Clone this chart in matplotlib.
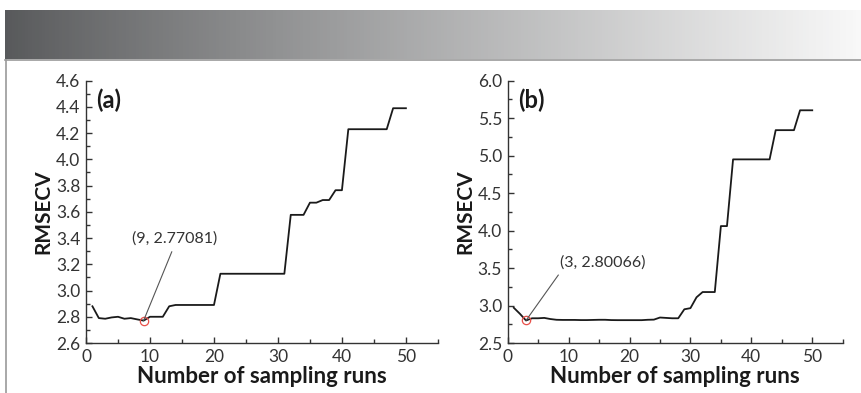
import numpy as np
import matplotlib.pyplot as plt
from matplotlib.lines import Line2D

# RMSECV against number of sampling runs, two data sets
runs = list(range(1, 51))

rmsecv_a = [2.88, 2.79, 2.785, 2.795, 2.80, 2.785, 2.79, 2.78, 2.77081, 2.80,
            2.80, 2.80, 2.88, 2.89, 2.89, 2.89, 2.89, 2.89, 2.89, 2.89,
            3.128, 3.128, 3.128, 3.128, 3.128, 3.128, 3.128, 3.128, 3.128, 3.128,
            3.128, 3.577, 3.577, 3.577, 3.67, 3.67, 3.69, 3.69, 3.765, 3.765,
            4.23, 4.23, 4.23, 4.23, 4.23, 4.23, 4.23, 4.39, 4.39, 4.39]

rmsecv_b = [2.97, 2.89, 2.80066, 2.83, 2.83, 2.835, 2.82, 2.81, 2.808, 2.808,
            2.808, 2.806, 2.806, 2.808, 2.81, 2.81, 2.806, 2.805, 2.805, 2.805,
            2.805, 2.805, 2.81, 2.812, 2.84, 2.835, 2.83, 2.83, 2.95, 2.965,
            3.11, 3.18, 3.18, 3.18, 4.06, 4.06, 4.95, 4.95, 4.95, 4.95,
            4.95, 4.95, 4.95, 5.34, 5.34, 5.34, 5.34, 5.605, 5.605, 5.605]

panels = [
    dict(tag='(a)', y=rmsecv_a, ylim=(2.6, 4.6), major=0.2, minor=0.1,
         best=(9, 2.77081), text_xy=(13.9, 3.40), line_end=(13.4, 3.295),
         rect=[0.0998, 0.1272, 0.4082, 0.6675]),
    dict(tag='(b)', y=rmsecv_b, ylim=(2.5, 6.0), major=0.5, minor=0.25,
         best=(3, 2.80066), text_xy=(15.6, 3.58), line_end=(8.3, 3.406),
         rect=[0.589, 0.1272, 0.3886, 0.6675]),
]

plt.rcParams['font.family'] = ['Lato', 'DejaVu Sans']
fig = plt.figure(figsize=(8.62, 3.93), dpi=100)

# grey gradient banner across the top
grad = np.linspace(0, 1, 256) ** 0.9
start = np.array([0.345, 0.35, 0.357])
stop = np.array([0.975, 0.975, 0.975])
rgb = start[None, :] + (stop - start)[None, :] * grad[:, None]
banner = fig.add_axes([0.0058, 1 - 59.5 / 393, 1 - 0.0058, 49.5 / 393])
banner.imshow(rgb[None, :, :], aspect='auto', extent=[0, 1, 0, 1])
banner.set_axis_off()

# frame lines under the banner
fig.add_artist(Line2D([0.0058, 1], [1 - 60 / 393] * 2, color='#9a9a9a', lw=1.2))
fig.add_artist(Line2D([0.0064, 0.0064], [0, 1 - 60 / 393], color='#9a9a9a', lw=1.2))

for p in panels:
    ax = fig.add_axes(p['rect'])
    ax.plot(runs, p['y'], color='#1a1a1a', lw=1.3)

    bx, by = p['best']
    ax.plot([bx], [by], 'o', mfc='none', mec='#e8504a', ms=6, mew=0.9)
    ax.plot([bx, p['line_end'][0]], [by, p['line_end'][1]], color='#555555', lw=0.8)
    ax.text(p['text_xy'][0], p['text_xy'][1], f'({bx}, {by})', ha='center',
            va='center', fontsize=11.5, color='#333333')

    ax.set_xlim(0, 55)
    ax.set_ylim(*p['ylim'])
    ax.set_xticks([0, 10, 20, 30, 40, 50])
    ax.set_xticks(np.arange(5, 56, 10), minor=True)
    ax.set_yticks(np.arange(p['ylim'][0], p['ylim'][1] + 1e-9, p['major']))
    ax.set_yticks(np.arange(p['ylim'][0], p['ylim'][1] + 1e-9, p['minor']), minor=True)
    ax.yaxis.set_major_formatter(plt.FormatStrFormatter('%.1f'))

    for side in ['top', 'right']:
        ax.spines[side].set_visible(False)
    for side in ['left', 'bottom']:
        ax.spines[side].set_color('#333333')
        ax.spines[side].set_linewidth(1.0)
    ax.tick_params(which='both', direction='in', colors='#333333',
                   labelsize=12.5, width=1.0)
    ax.tick_params(which='major', length=4.5, pad=4)
    ax.tick_params(which='minor', length=3)

    ax.set_ylabel('RMSECV', fontsize=15, fontweight='bold', color='#1a1a1a', labelpad=2)
    ax.set_xlabel('Number of sampling runs', fontsize=16, fontweight='bold',
                  color='#1a1a1a', labelpad=1)
    ax.text(0.03, 0.97, p['tag'], transform=ax.transAxes, ha='left', va='top',
            fontsize=17, fontweight='bold', color='#1a1a1a')

fig.savefig('out.png', dpi=100)
